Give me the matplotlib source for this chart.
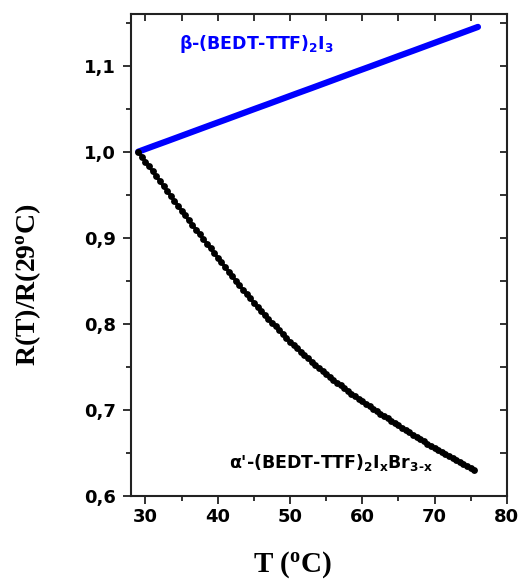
import matplotlib
matplotlib.use('Agg')
import matplotlib.pyplot as plt
from matplotlib.ticker import MultipleLocator, FuncFormatter

plt.rcParams['font.family'] = 'DejaVu Sans'
plt.rcParams['font.weight'] = 'bold'
plt.rcParams['mathtext.default'] = 'regular'

# beta-(BEDT-TTF)2I3
beta_T = [29, 31, 33, 35, 37, 39, 41, 43, 45, 47, 49, 51, 53, 55, 57, 59,
          61, 63, 65, 67, 69, 71, 73, 75, 76]
beta_R = [1.0000, 1.0062, 1.0123, 1.0185, 1.0247, 1.0309, 1.0370, 1.0432,
          1.0494, 1.0555, 1.0617, 1.0679, 1.0740, 1.0802, 1.0864, 1.0926,
          1.0987, 1.1049, 1.1111, 1.1172, 1.1234, 1.1296, 1.1357, 1.1419,
          1.1450]

# alpha'-(BEDT-TTF)2IxBr3-x
alpha_T = [29.0, 29.5, 30.0, 30.5, 31.0, 31.5, 32.0, 32.5, 33.0, 33.5,
           34.0, 34.5, 35.0, 35.5, 36.0, 36.5, 37.0, 37.5, 38.0, 38.5,
           39.0, 39.5, 40.0, 40.5, 41.0, 41.5, 42.0, 42.5, 43.0, 43.5,
           44.0, 44.5, 45.0, 45.5, 46.0, 46.5, 47.0, 47.5, 48.0, 48.5,
           49.0, 49.5, 50.0, 50.5, 51.0, 51.5, 52.0, 52.5, 53.0, 53.5,
           54.0, 54.5, 55.0, 55.5, 56.0, 56.5, 57.0, 57.5, 58.0, 58.5,
           59.0, 59.5, 60.0, 60.5, 61.0, 61.5, 62.0, 62.5, 63.0, 63.5,
           64.0, 64.5, 65.0, 65.5, 66.0, 66.5, 67.0, 67.5, 68.0, 68.5,
           69.0, 69.5, 70.0, 70.5, 71.0, 71.5, 72.0, 72.5, 73.0, 73.5,
           74.0, 74.5, 75.0, 75.5]
alpha_R = [1.0000, 0.9943, 0.9886, 0.9829, 0.9772, 0.9715, 0.9658, 0.9601,
           0.9544, 0.9487, 0.9430, 0.9373, 0.9316, 0.9259, 0.9202, 0.9148,
           0.9094, 0.9040, 0.8986, 0.8932, 0.8878, 0.8824, 0.8770, 0.8716,
           0.8662, 0.8608, 0.8554, 0.8500, 0.8446, 0.8396, 0.8346, 0.8296,
           0.8246, 0.8196, 0.8146, 0.8102, 0.8058, 0.8014, 0.7970, 0.7926,
           0.7882, 0.7838, 0.7794, 0.7755, 0.7716, 0.7677, 0.7638, 0.7599,
           0.7560, 0.7525, 0.7490, 0.7455, 0.7420, 0.7385, 0.7350, 0.7318,
           0.7286, 0.7254, 0.7222, 0.7190, 0.7158, 0.7129, 0.7100, 0.7071,
           0.7042, 0.7013, 0.6984, 0.6957, 0.6929, 0.6902, 0.6874, 0.6847,
           0.6819, 0.6792, 0.6764, 0.6738, 0.6712, 0.6686, 0.6660, 0.6634,
           0.6608, 0.6582, 0.6556, 0.6533, 0.6510, 0.6487, 0.6464, 0.6441,
           0.6418, 0.6395, 0.6372, 0.6349, 0.6326, 0.6303]

fig = plt.figure(figsize=(5.22, 5.79), dpi=100)
ax = fig.add_axes([0.251, 0.1434, 0.720, 0.8324])

ax.plot(beta_T, beta_R, color='#0000FF', lw=4.5, solid_capstyle='round', zorder=3)
ax.plot(alpha_T, alpha_R, color='black', lw=2.4, marker='o', ms=3.9,
        mec='black', mfc='black', zorder=4)

ax.set_xlim(28, 80)
ax.set_ylim(0.6, 1.16)
ax.xaxis.set_major_locator(MultipleLocator(10))
ax.xaxis.set_minor_locator(MultipleLocator(5))
ax.yaxis.set_major_locator(MultipleLocator(0.1))
ax.yaxis.set_minor_locator(MultipleLocator(0.05))
ax.yaxis.set_major_formatter(FuncFormatter(lambda v, p: f'{v:.1f}'.replace('.', ',')))

for s in ax.spines.values():
    s.set_linewidth(1.5)
    s.set_color('#222222')

ax.tick_params(which='both', direction='out', width=1.3, color='#222222',
               labelsize=13, top=False, right=False)
ax.tick_params(which='major', length=6, pad=3)
ax.tick_params(which='minor', length=3.5)
ax.tick_params(axis='y', which='major', pad=5)

# mirrored ticks pointing inward on top and right
axt = ax.secondary_xaxis('top')
axt.xaxis.set_major_locator(MultipleLocator(5))
axt.tick_params(direction='in', length=5, width=1.3, color='#222222', labeltop=False)
axr = ax.secondary_yaxis('right')
axr.yaxis.set_major_locator(MultipleLocator(0.05))
axr.tick_params(direction='in', length=5, width=1.3, color='#222222', labelright=False)
for a in (axt, axr):
    for s in a.spines.values():
        s.set_visible(False)

ax.set_xlabel('T ($^o$C)', family='Liberation Serif', weight='bold', size=21)
ax.set_ylabel('R(T)/R(29$^o$C)', family='Liberation Serif', weight='bold', size=20)
ax.xaxis.set_label_coords(0.43, -0.11)
ax.yaxis.set_label_coords(-0.235, 0.438)

ax.text(34.7, 1.119, r'β-(BEDT-TTF)$_2$I$_3$', color='#0000FF', fontsize=12.5,
        fontweight='bold', ha='left', va='baseline')
ax.text(41.5, 0.632, r"α'-(BEDT-TTF)$_2$I$_x$Br$_{3\text{-}x}$", color='black',
        fontsize=12.5, fontweight='bold', ha='left', va='baseline')

fig.savefig('out.png', dpi=100)
